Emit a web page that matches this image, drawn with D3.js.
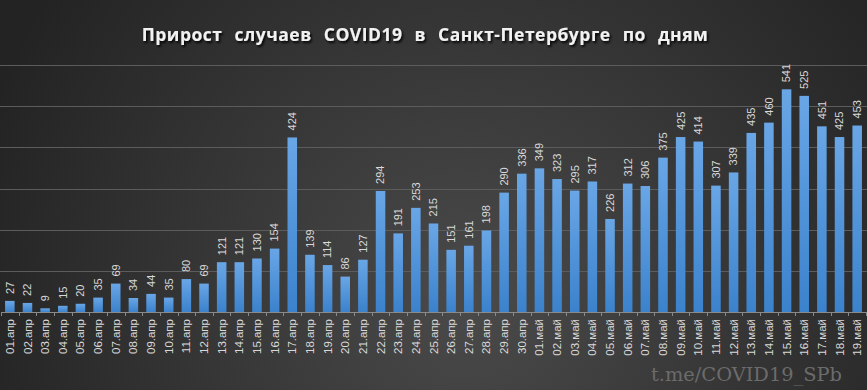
<!DOCTYPE html>
<html>
<head>
<meta charset="utf-8">
<script src="https://cdn.jsdelivr.net/npm/d3@7"></script>
<style>
  html, body { margin: 0; padding: 0; background: #333; }
  svg { display: block; }
</style>
</head>
<body>
<div id="chart"></div>
<script>
// Data
const days = [
  "01.апр","02.апр","03.апр","04.апр","05.апр","06.апр","07.апр","08.апр","09.апр","10.апр",
  "11.апр","12.апр","13.апр","14.апр","15.апр","16.апр","17.апр","18.апр","19.апр","20.апр",
  "21.апр","22.апр","23.апр","24.апр","25.апр","26.апр","27.апр","28.апр","29.апр","30.апр",
  "01.май","02.май","03.май","04.май","05.май","06.май","07.май","08.май","09.май","10.май",
  "11.май","12.май","13.май","14.май","15.май","16.май","17.май","18.май","19.май"
];
const newCases = [
  27, 22, 9, 15, 20, 35, 69, 34, 44, 35,
  80, 69, 121, 121, 130, 154, 424, 139, 114, 86,
  127, 294, 191, 253, 215, 151, 161, 198, 290, 336,
  349, 323, 295, 317, 226, 312, 306, 375, 425, 414,
  307, 339, 435, 460, 541, 525, 451, 425, 453
];
const gridValues = [100, 200, 300, 400, 500, 600];

const WIDTH = 867;
const HEIGHT = 390;
const PLOT = { left: 1, right: 866, top: 65, bottom: 312 };

const svg = d3.select("#chart")
  .append("svg")
  .attr("width", WIDTH)
  .attr("height", HEIGHT);

const defs = svg.append("defs");

// background gradient
const bg = defs.append("radialGradient")
  .attr("id", "bg")
  .attr("gradientUnits", "userSpaceOnUse")
  .attr("cx", 470).attr("cy", 300).attr("r", 520);
bg.append("stop").attr("offset", "0%").attr("stop-color", "#4a4a4a");
bg.append("stop").attr("offset", "100%").attr("stop-color", "#232323");

// bar gradient
const barGrad = defs.append("linearGradient")
  .attr("id", "barGrad")
  .attr("x1", 0).attr("y1", 0).attr("x2", 0).attr("y2", 1);
barGrad.append("stop").attr("offset", "0%").attr("stop-color", "#69a6e6");
barGrad.append("stop").attr("offset", "100%").attr("stop-color", "#3b82cc");

// title shadow
const shadow = defs.append("filter").attr("id", "shadow")
  .attr("x", "-5%").attr("y", "-30%").attr("width", "110%").attr("height", "160%");
shadow.append("feDropShadow")
  .attr("dx", 1.5).attr("dy", 2).attr("stdDeviation", 1.2)
  .attr("flood-color", "#000").attr("flood-opacity", 0.9);

svg.append("rect")
  .attr("width", WIDTH).attr("height", HEIGHT)
  .attr("fill", "url(#bg)");

// Scales
const x = d3.scaleBand()
  .domain(days)
  .range([PLOT.left, PLOT.right])
  .paddingInner(0.46)
  .paddingOuter(0.23);

const y = d3.scaleLinear()
  .domain([0, 600])
  .range([PLOT.bottom, PLOT.top]);

// Gridlines
svg.append("g")
  .selectAll("line")
  .data(gridValues)
  .join("line")
  .attr("x1", 0).attr("x2", WIDTH)
  .attr("y1", d => Math.round(y(d)) + 0.5)
  .attr("y2", d => Math.round(y(d)) + 0.5)
  .attr("stroke", "#5c5c5c")
  .attr("stroke-width", 1);

// Bars
svg.append("g")
  .selectAll("rect")
  .data(days)
  .join("rect")
  .attr("x", d => x(d))
  .attr("width", x.bandwidth())
  .attr("y", (d, i) => y(newCases[i]))
  .attr("height", (d, i) => y(0) - y(newCases[i]))
  .attr("fill", "url(#barGrad)");

// Value labels
svg.append("g")
  .selectAll("text")
  .data(days)
  .join("text")
  .attr("transform", (d, i) =>
    "translate(" + (x(d) + x.bandwidth() / 2) + "," + (y(newCases[i]) - 7) + ") rotate(-90)")
  .attr("dy", "0.35em")
  .attr("text-anchor", "start")
  .attr("fill", "#d9d9d9")
  .style("font-family", "'Liberation Sans', Arial, sans-serif")
  .style("font-size", "11px")
  .text((d, i) => newCases[i]);

// X axis
const xAxis = svg.append("g")
  .attr("transform", "translate(0," + PLOT.bottom + ")")
  .call(d3.axisBottom(x).tickSize(0).tickSizeOuter(0));

xAxis.select(".domain")
  .attr("stroke", "#8a8a8a");

xAxis.selectAll("text")
  .attr("transform", "rotate(-90)")
  .attr("x", -7)
  .attr("y", 0)
  .attr("dy", "0.35em")
  .attr("text-anchor", "end")
  .attr("fill", "#d9d9d9")
  .style("font-family", "'Liberation Sans', Arial, sans-serif")
  .style("font-size", "11.5px");

// tick marks between categories
const step = x.step();
const boundaries = d3.range(days.length + 1).map(i => x(days[0]) - step * x.paddingInner() / 2 + i * step);
xAxis.selectAll(".sep")
  .data(boundaries)
  .join("line")
  .attr("class", "sep")
  .attr("x1", d => Math.round(d) + 0.5)
  .attr("x2", d => Math.round(d) + 0.5)
  .attr("y1", 0).attr("y2", 4)
  .attr("stroke", "#8a8a8a");

// Title
svg.append("text")
  .attr("x", 425)
  .attr("y", 41)
  .attr("text-anchor", "middle")
  .attr("fill", "#f2f2f2")
  .attr("filter", "url(#shadow)")
  .style("font-family", "'Open Sans', sans-serif")
  .style("font-weight", "bold")
  .style("font-size", "17.5px")
  .style("word-spacing", "7px")
  .style("letter-spacing", "0.5px")
  .text("Прирост случаев COVID19 в Санкт-Петербурге по дням");

// Watermark
svg.append("text")
  .attr("x", 651)
  .attr("y", 381)
  .attr("fill", "#6b6b6b")
  .attr("textLength", 191)
  .attr("lengthAdjust", "spacingAndGlyphs")
  .style("font-family", "'DejaVu Serif', serif")
  .style("font-size", "18.5px")
  .text("t.me/COVID19_SPb");
</script>
</body>
</html>
